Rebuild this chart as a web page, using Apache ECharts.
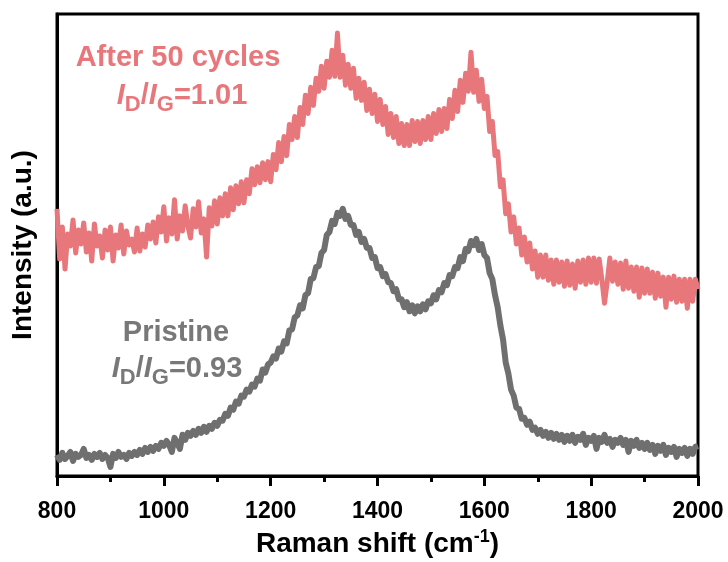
<!DOCTYPE html>
<html>
<head>
<meta charset="utf-8">
<script src="https://cdn.jsdelivr.net/npm/echarts@6/dist/echarts.min.js"></script>
<style>
html,body{margin:0;padding:0;background:#fff;}
#chart{width:728px;height:562px;}
</style>
</head>
<body>
<div id="chart"></div>
<script>
// Raman shift sampling grid (cm-1), 5 cm-1 steps from 800 to 2000
const shiftStart = 800, shiftStep = 5;
const xTicks = [800, 1000, 1200, 1400, 1600, 1800, 2000];

// After 50 cycles (arbitrary units)
const after50 = [
 266,216,248,206,241,229,255,222,245,231,
 252,223,242,214,251,229,239,217,245,225,
 248,214,240,227,250,221,244,230,236,223,
 247,224,241,228,250,236,253,232,258,243,
 268,234,257,241,275,236,259,244,269,249,
 237,266,248,273,242,256,218,267,249,274,
 251,277,259,281,259,287,265,289,271,293,
 272,295,281,306,290,308,292,312,295,313,
 293,320,305,332,313,338,319,350,335,358,
 337,367,350,379,361,387,369,396,383,408,
 386,413,397,424,398,441,397,419,389,410,
 386,406,376,396,374,392,364,385,361,380,
 353,375,350,368,340,361,337,358,331,351,
 329,350,329,354,333,353,331,354,335,358,
 335,361,341,365,343,366,346,375,356,384,
 363,394,372,401,383,422,382,404,373,395,
 366,378,343,353,319,323,288,295,261,271,
 243,258,231,247,220,238,213,232,206,224,
 198,220,198,220,195,215,191,215,193,213,
 189,214,190,211,187,214,193,215,191,217,
 193,217,192,216,196,172,193,217,194,213,
 191,212,186,214,187,208,184,208,178,207,
 182,206,182,203,177,202,179,198,168,198,
 176,199,173,196,174,196,167,196,174,196,
 186
];

// Pristine (arbitrary units)
const pristine = [
 21,16,23,17,20,24,15,22,19,21,
 27,18,21,16,22,19,23,17,21,18,
 9,22,18,24,19,21,17,23,20,24,
 21,26,22,28,24,29,25,30,27,33,
 30,35,31,24,38,33,27,41,36,43,
 40,45,41,47,43,49,44,50,47,53,
 50,56,55,62,60,68,66,74,72,80,
 79,86,84,91,89,97,95,106,103,111,
 113,119,117,127,124,134,132,145,146,158,
 160,170,167,180,182,196,197,208,209,222,
 225,240,243,254,251,262,259,266,256,259,
 250,250,240,243,233,236,227,227,217,218,
 207,208,199,201,193,192,184,186,176,176,
 168,173,164,170,162,169,164,171,166,174,
 172,180,176,185,183,192,190,200,199,208,
 207,218,214,226,224,234,230,236,225,231,
 220,217,202,196,180,168,150,136,113,102,
 86,80,68,67,57,58,51,54,46,48,
 42,46,40,44,38,43,37,42,36,41,
 34,40,35,41,33,39,36,42,31,38,
 35,40,27,38,34,41,33,37,29,36,
 33,38,31,36,24,35,30,36,28,33,
 27,33,26,31,22,30,25,31,21,28,
 24,29,19,27,23,28,20,27,22,29,
 30
];

const seriesNames = ['After 50 cycles', 'Pristine'];
const ratioAfter = '1.01';
const ratioPristine = '0.93';

const toPairs = arr => arr.map((v, i) => [shiftStart + i * shiftStep, v]);

const FONT = 'Liberation Sans, Arial, Helvetica, sans-serif';
const RED = '#E8777B';
const GRAY = '#6F6F6F';
const GRAY_TEXT = '#787878';

function ratioRich(color) {
  return {
    i: {fontFamily: FONT, fontSize: 29, fontWeight: 'bold', fontStyle: 'italic', fill: color, color: color, lineHeight: 30, verticalAlign: 'top'},
    s: {fontFamily: FONT, fontSize: 22, fontWeight: 'bold', fill: color, color: color, lineHeight: 22, verticalAlign: 'top', padding: [13, 0, 0, 0]},
    n: {fontFamily: FONT, fontSize: 29, fontWeight: 'bold', fill: color, color: color, lineHeight: 30, verticalAlign: 'top'}
  };
}

const chart = echarts.init(document.getElementById('chart'), null, {renderer: 'canvas'});
chart.setOption({
  animation: false,
  backgroundColor: '#fff',
  grid: {left: 57, right: 30, top: 14, bottom: 86, show: true, borderColor: '#000', borderWidth: 3, outerBoundsMode: 'none'},
  xAxis: {
    type: 'value', min: 800, max: 2000, interval: 200,
    name: 'Raman shift (cm{sup|-1})',
    nameLocation: 'middle', nameGap: 52,
    nameTextStyle: {
      fontFamily: FONT, fontSize: 28, fontWeight: 'bold', color: '#000', lineHeight: 32,
      rich: {sup: {fontFamily: FONT, fontSize: 18, fontWeight: 'bold', color: '#000', lineHeight: 18, verticalAlign: 'top'}}
    },
    axisLine: {show: true, lineStyle: {color: '#000', width: 3}},
    axisTick: {show: true, inside: false, length: 10, lineStyle: {color: '#000', width: 3}},
    minorTick: {show: true, splitNumber: 2, length: 6, lineStyle: {color: '#000', width: 3}},
    axisLabel: {
      fontFamily: FONT, fontSize: 23, fontWeight: 'bold', color: '#000', margin: 24,
      formatter: v => (xTicks.indexOf(v) >= 0 ? String(v) : '')
    },
    splitLine: {show: false}, minorSplitLine: {show: false}
  },
  yAxis: {
    type: 'value', min: 0, max: 460,
    name: 'Intensity (a.u.)', nameLocation: 'middle', nameGap: 20,
    nameTextStyle: {fontFamily: FONT, fontSize: 28, fontWeight: 'bold', color: '#000'},
    axisLine: {show: true, lineStyle: {color: '#000', width: 3}},
    axisTick: {show: false}, axisLabel: {show: false}, splitLine: {show: false}
  },
  series: [
    {name: seriesNames[1], type: 'line', data: toPairs(pristine), showSymbol: false, symbol: 'none',
     lineStyle: {color: GRAY, width: 6, join: 'round'}, z: 2},
    {name: seriesNames[0], type: 'line', data: toPairs(after50), showSymbol: false, symbol: 'none',
     lineStyle: {color: RED, width: 5, join: 'round'}, z: 3}
  ],
  graphic: [
    {type: 'text', x: 178, y: 58, style: {text: seriesNames[0], fill: RED, font: 'bold 29px ' + FONT, align: 'center', verticalAlign: 'middle'}},
    {type: 'text', x: 182, y: 96, style: {text: '{i|I}{s|D}{n|/}{i|I}{s|G}{n|=' + ratioAfter + '}', fill: RED, rich: ratioRich(RED), align: 'center', verticalAlign: 'middle'}},
    {type: 'text', x: 176, y: 333, style: {text: seriesNames[1], fill: GRAY_TEXT, font: 'bold 29px ' + FONT, align: 'center', verticalAlign: 'middle'}},
    {type: 'text', x: 177, y: 369, style: {text: '{i|I}{s|D}{n|/}{i|I}{s|G}{n|=' + ratioPristine + '}', fill: GRAY_TEXT, rich: ratioRich(GRAY_TEXT), align: 'center', verticalAlign: 'middle'}}
  ]
});
</script>
</body>
</html>
